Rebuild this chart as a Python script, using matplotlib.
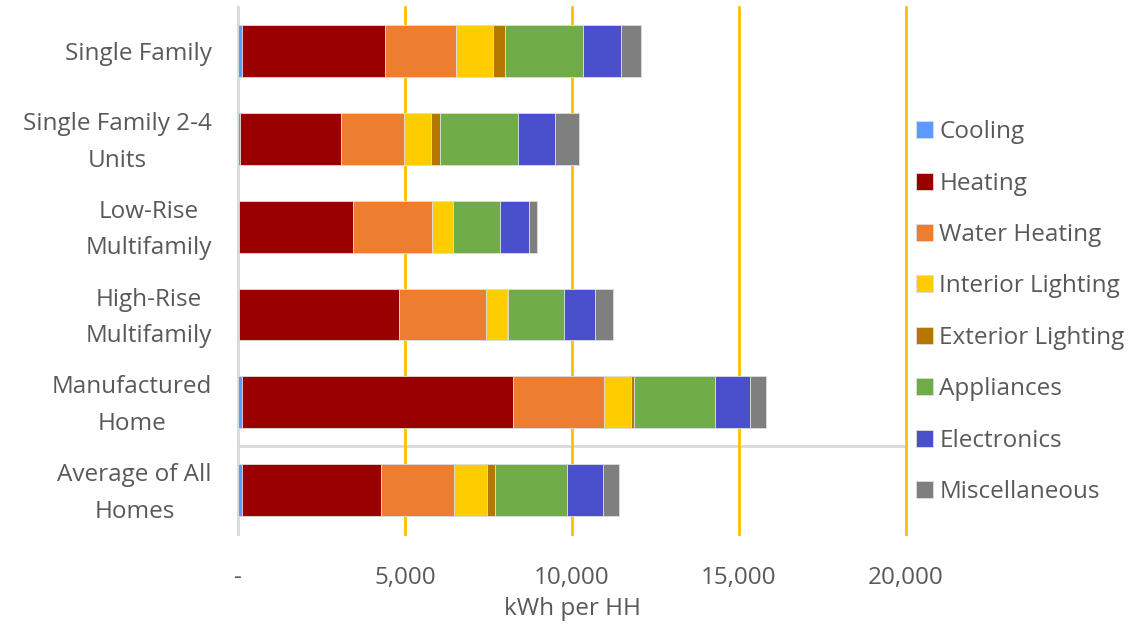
import matplotlib.pyplot as plt
import matplotlib.transforms as mtransforms
import numpy as np
from matplotlib.patches import Patch

plt.rcParams["font.family"] = ["Open Sans", "DejaVu Sans"]

TEXT = "#595959"
GRID = "#FFC000"
AXIS = "#D9D9D9"
FS = 17.5

homes = ["Single Family", "Single Family 2-4\nUnits", "Low-Rise\nMultifamily",
         "High-Rise\nMultifamily", "Manufactured\nHome", "Average of All\nHomes"]

end_uses = ["Cooling", "Heating", "Water Heating", "Interior Lighting",
            "Exterior Lighting", "Appliances", "Electronics", "Miscellaneous"]
colors = ["#5B9BFF", "#990000", "#ED7D31", "#FFCC00",
          "#B47800", "#70AD47", "#4A50CC", "#7F7F7F"]

# kWh per household, one list per end use (order follows homes)
cooling = [110, 70, 20, 20, 110, 110]
heating = [4290, 3020, 3420, 4800, 8120, 4170]
water_heating = [2120, 1880, 2380, 2600, 2720, 2190]
interior_lighting = [1130, 810, 610, 650, 820, 990]
exterior_lighting = [350, 270, 10, 10, 100, 230]
appliances = [2340, 2330, 1410, 1690, 2420, 2150]
electronics = [1120, 1110, 850, 930, 1030, 1080]
miscellaneous = [610, 730, 260, 530, 500, 500]

series = [cooling, heating, water_heating, interior_lighting,
          exterior_lighting, appliances, electronics, miscellaneous]

fig = plt.figure(figsize=(11.43, 6.27), dpi=100)
ax = fig.add_axes([0.2082, 0.1483, 0.5844, 0.8405])

y = np.arange(len(homes))
left = np.zeros(len(homes))
for name, vals, c in zip(end_uses, series, colors):
    ax.barh(y, vals, left=left, height=0.59, color=c, edgecolor="#DDDDDD",
            linewidth=0.6, label=name, zorder=3)
    left += np.array(vals)

ax.set_xlim(0, 20000)
ax.set_ylim(5.5, -0.5)

# category labels drawn as text so they can sit slightly lower, centred per line
ax.set_yticks(y)
ax.set_yticklabels([])
ax.tick_params(axis="y", length=0)
lab_tr = ax.get_yaxis_transform() + mtransforms.ScaledTranslation(-0.26, -0.035, fig.dpi_scale_trans)
for yi, name in zip(y, homes):
    ax.text(0, yi, name, transform=lab_tr, ha="right", va="center",
            multialignment="center", fontsize=FS, color=TEXT, linespacing=1.7)

ticks = [0, 5000, 10000, 15000, 20000]
ax.set_xticks(ticks)
ax.set_xticklabels(["-" if t == 0 else f"{t:,}" for t in ticks], fontsize=FS, color=TEXT)
ax.tick_params(axis="x", length=0, pad=23)
ax.set_xlabel("kWh per HH", fontsize=FS, color=TEXT, labelpad=5)

ax.grid(axis="x", color=GRID, linewidth=2, zorder=0)
for gl in ax.xaxis.get_gridlines():
    gl.set_clip_on(False)
ax.xaxis.get_gridlines()[0].set_visible(False)
ax.axhline(4.5, color=AXIS, linewidth=2, zorder=1)

for s in ["top", "right", "bottom"]:
    ax.spines[s].set_visible(False)
ax.spines["left"].set_color(AXIS)
ax.spines["left"].set_linewidth(2)

handles = [Patch(facecolor=c, edgecolor="#DDDDDD", linewidth=0.6) for c in colors]
leg = fig.legend(handles, end_uses, loc="upper left", bbox_to_anchor=(0.7925, 0.824),
                 frameon=False, fontsize=FS, handlelength=0.7, handleheight=0.7,
                 handletextpad=0.28, labelspacing=1.13, borderaxespad=0)
for t in leg.get_texts():
    t.set_color(TEXT)

fig.savefig("out.png", dpi=100)
